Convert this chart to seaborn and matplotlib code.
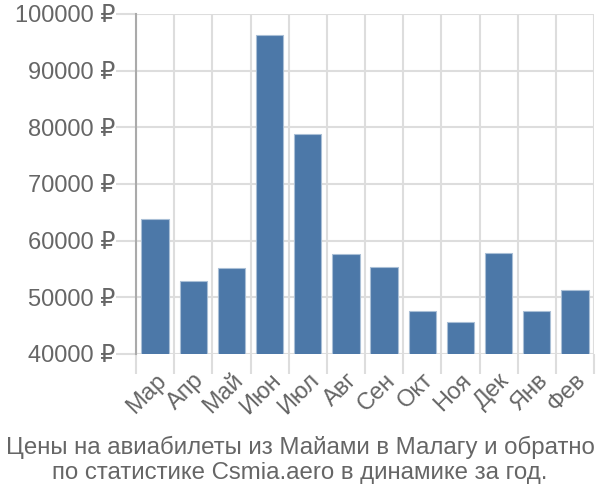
import matplotlib
matplotlib.use("Agg")
import matplotlib.pyplot as plt
import seaborn as sns
import numpy as np
import pandas as pd

months = ["Мар", "Апр", "Май", "Июн", "Июл", "Авг", "Сен", "Окт", "Ноя", "Дек", "Янв", "Фев"]
prices = [63900, 52900, 55100, 96300, 78800, 57650, 55300, 47600, 45600, 57770, 47600, 51250]
yticks = [40000, 50000, 60000, 70000, 80000, 90000, 100000]
title_lines = ["Цены на авиабилеты из Майами в Малагу и обратно",
               "по статистике Csmia.aero в динамике за год."]

sns.set_theme(style="white")
plt.rcParams['font.family'] = ['Liberation Sans', 'DejaVu Sans']

df = pd.DataFrame({"month": months, "price": prices})

fig = plt.figure(figsize=(6, 5), dpi=100)
ax = fig.add_axes([136/600, 1-354/500, (594-136)/600, (354-14)/500])

grid_c = "#dddddd"
text_c = "#666666"

sns.barplot(data=df, x="month", y="price", color="#4c78a8", saturation=1,
            width=0.72, edgecolor="#a9bfd6", linewidth=0.8, ax=ax, zorder=3)

ax.set_ylim(40000, 100000)
ax.set_xlim(-0.5, len(months) - 0.5)
ax.set_yticks(yticks)
ax.set_yticklabels([f"{v} ₽" for v in yticks])
ax.set_xticks(np.arange(-0.5, len(months), 1.0), minor=True)
ax.grid(True, axis="y", which="major", color=grid_c, linewidth=1.5, zorder=0)
ax.grid(True, axis="x", which="minor", color=grid_c, linewidth=1.5, zorder=0)
ax.set_axisbelow(True)
ax.tick_params(axis="y", which="major", length=14.5, width=1.5, color=grid_c,
               labelsize=17, labelcolor=text_c, pad=0.5, left=True)
ax.tick_params(axis="x", which="minor", length=14.5, width=1.5, color=grid_c, bottom=True)
ax.tick_params(axis="x", which="major", length=0, labelsize=17, labelcolor=text_c, pad=11)
for lab in ax.get_xticklabels():
    lab.set_rotation(45)
    lab.set_ha("right")
    lab.set_rotation_mode("anchor")

ax.set_xlabel("")
ax.set_ylabel("")
for s in ["top", "right", "bottom"]:
    ax.spines[s].set_visible(False)
ax.spines["left"].set_color("#aaaaaa")
ax.spines["left"].set_linewidth(1.5)

fig.text(0.5, 1-447/500, title_lines[0], ha="center", va="center", fontsize=17.3, color=text_c)
fig.text(0.5, 1-473/500, title_lines[1], ha="center", va="center", fontsize=17.3, color=text_c)

fig.savefig("out.png", dpi=100)
